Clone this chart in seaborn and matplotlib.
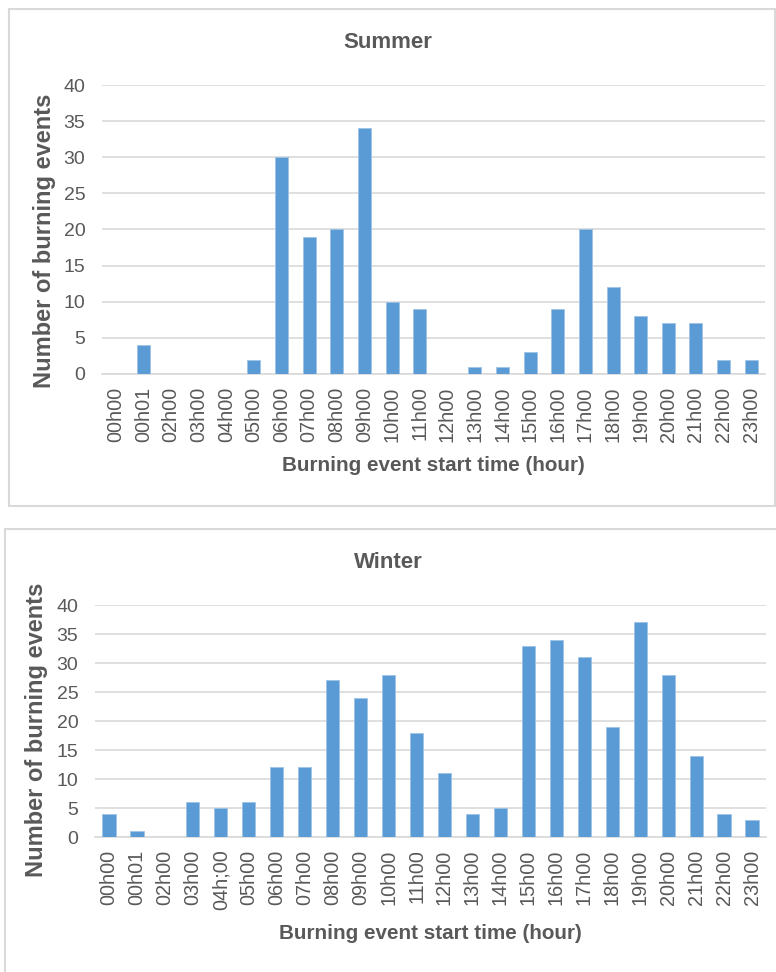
import pandas as pd
import seaborn as sns
import matplotlib.pyplot as plt
from matplotlib.patches import Rectangle

# Hour labels as they appear on each chart
summer_hours = ['00h00', '00h01', '02h00', '03h00', '04h00', '05h00', '06h00', '07h00',
                '08h00', '09h00', '10h00', '11h00', '12h00', '13h00', '14h00', '15h00',
                '16h00', '17h00', '18h00', '19h00', '20h00', '21h00', '22h00', '23h00']
winter_hours = ['00h00', '00h01', '02h00', '03h00', '04h;00', '05h00', '06h00', '07h00',
                '08h00', '09h00', '10h00', '11h00', '12h00', '13h00', '14h00', '15h00',
                '16h00', '17h00', '18h00', '19h00', '20h00', '21h00', '22h00', '23h00']

# Number of burning events per start hour
summer_counts = [0, 4, 0, 0, 0, 2, 30, 19, 20, 34, 10, 9, 0, 1, 1, 3, 9, 20, 12, 8, 7, 7, 2, 2]
winter_counts = [4, 1, 0, 6, 5, 6, 12, 12, 27, 24, 28, 18, 11, 4, 5, 33, 34, 31, 19, 37, 28, 14, 4, 3]

sns.set_style('white')
plt.rcParams['font.family'] = ['Liberation Sans', 'DejaVu Sans']

text_col = '#595959'
grid_col = '#d9d9d9'
bar_col = '#5b9bd5'

W, H = 776, 972
fig = plt.figure(figsize=(W / 100, H / 100), dpi=100)

# panel borders (like the Excel chart areas)
fig.patches.append(Rectangle((9 / W, (H - 506) / H), 766 / W, 497 / H, transform=fig.transFigure,
                             fill=False, edgecolor=grid_col, linewidth=1.5))
fig.patches.append(Rectangle((5 / W, (H - 990) / H), 780 / W, 461 / H, transform=fig.transFigure,
                             fill=False, edgecolor=grid_col, linewidth=1.5))


def draw_panel(rect, hours, counts, title, title_y, ylab_x):
    ax = fig.add_axes(rect)
    df = pd.DataFrame({'hour': hours, 'count': counts})
    sns.barplot(data=df, x='hour', y='count', color=bar_col, width=0.47,
                edgecolor='#9dc3e6', linewidth=0.6, saturation=1, ax=ax, zorder=3)
    ax.set_ylim(0, 40)
    ax.set_yticks(range(0, 41, 5))
    ax.set_xlim(-0.5, len(hours) - 0.5)
    ax.grid(axis='y', color=grid_col, linewidth=1.2, zorder=0)
    ax.set_axisbelow(True)
    for s in ['top', 'right', 'left']:
        ax.spines[s].set_visible(False)
    ax.spines['bottom'].set_color(grid_col)
    ax.spines['bottom'].set_linewidth(1.2)
    ax.tick_params(axis='both', length=0, colors=text_col)
    ax.tick_params(axis='y', pad=12, labelsize=14)
    ax.tick_params(axis='x', pad=9, labelrotation=90, labelsize=14.3)
    ax.set_xlabel('Burning event start time (hour)', fontsize=14.9, fontweight='bold',
                  color=text_col, labelpad=10)
    ax.set_ylabel('Number of burning events', fontsize=17, fontweight='bold', color=text_col)
    left_px = rect[0] * W
    ax.yaxis.set_label_coords((ylab_x - left_px) / (rect[2] * W), 0.46)
    fig.text(0.5, (H - title_y) / H, title, ha='center', va='center', fontsize=16,
             fontweight='bold', color=text_col)
    return ax


draw_panel([102 / W, (H - 374) / H, 663 / W, 289 / H], summer_hours, summer_counts,
           'Summer', 43, 56)
draw_panel([95 / W, (H - 837) / H, 671 / W, 232 / H], winter_hours, winter_counts,
           'Winter', 562, 48)

fig.savefig('out.png', dpi=100, facecolor='white')
